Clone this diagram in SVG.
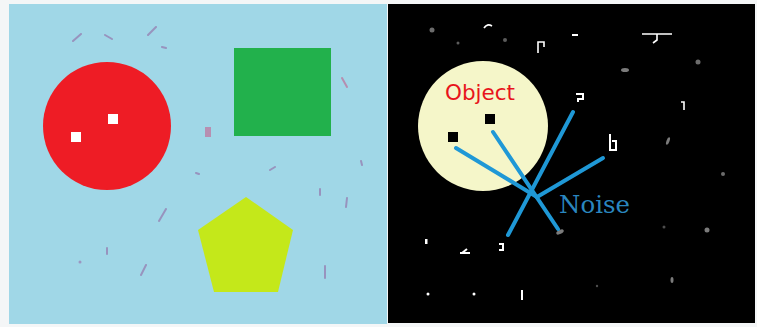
<svg xmlns="http://www.w3.org/2000/svg" width="757" height="327" viewBox="0 0 757 327">
<style>
.pn{fill:#9a7bb0;opacity:0.7}
.pd{stroke:#9577ad;stroke-width:2;stroke-linecap:round;opacity:0.7}
.wd{stroke:#ffffff;stroke-width:1.6;fill:none}
.gs{fill:#9a9a9a}
.ray{stroke:#1f98d6;stroke-width:4;stroke-linecap:round}
</style>
<rect width="757" height="327" fill="#f4f6f7"/>
<g id="panel-left">
<rect x="9" y="4" width="378" height="320" fill="#a0d7e7"/>
<g id="left-noise">
<line class="pd" x1="73" y1="41" x2="81" y2="34"/>
<line class="pd" x1="105" y1="35" x2="112" y2="39"/>
<line class="pd" x1="148" y1="35" x2="156" y2="27"/>
<line class="pd" x1="162" y1="47" x2="166" y2="48"/>
<line class="pd" x1="342" y1="78" x2="347" y2="87" style="stroke:#c0709a"/>
<rect x="205" y="127" width="6" height="10" fill="#c0709a" opacity="0.7"/>
<line class="pd" x1="159" y1="221" x2="166" y2="209"/>
<line class="pd" x1="107" y1="248" x2="107" y2="254"/>
<circle class="pn" cx="80" cy="262" r="1.5"/>
<line class="pd" x1="141" y1="275" x2="146" y2="265"/>
<line class="pd" x1="196" y1="173" x2="199" y2="174"/>
<line class="pd" x1="270" y1="170" x2="275" y2="167"/>
<line class="pd" x1="320" y1="189" x2="320" y2="195"/>
<line class="pd" x1="347" y1="198" x2="346" y2="207"/>
<line class="pd" x1="325" y1="266" x2="325" y2="278"/>
<line class="pd" x1="361" y1="161" x2="362" y2="165"/>
</g>
</g>
<g id="red-circle">
<circle cx="107" cy="126" r="64" fill="#ee1c25"/>
<rect x="71" y="132" width="10" height="10" fill="#ffffff"/>
<rect x="108" y="114" width="10" height="10" fill="#ffffff"/>
</g>
<g id="green-square">
<rect x="234" y="48" width="97" height="88" fill="#22b14c"/>
</g>
<g id="pentagon">
<polygon points="246,197 293,230 278,292 214,292 198,230" fill="#c4e81a"/>
</g>
<g id="panel-right">
<rect x="388" y="4" width="367" height="319" fill="#000000"/>
<g id="right-noise">
<circle class="gs" cx="432" cy="30" r="2.5" opacity="0.7"/>
<path class="wd" d="M484,28 Q487,23 492,26"/>
<circle class="gs" cx="458" cy="43" r="1.5" opacity="0.6"/>
<circle class="gs" cx="505" cy="40" r="2" opacity="0.6"/>
<path class="wd" d="M538,53 V42 H544 V47"/>
<line class="wd" x1="572" y1="35" x2="578" y2="35" style="stroke-width:2"/>
<path class="wd" d="M642,34 H672 M657,34 V40 L653,43"/>
<ellipse class="gs" cx="625" cy="70" rx="4" ry="2" opacity="0.8"/>
<circle class="gs" cx="698" cy="62" r="2.5" opacity="0.7"/>
<path class="wd" d="M576,94 H583 V99 H578 V102" style="stroke-width:2"/>
<path class="wd" d="M681,102 H684 V110"/>
<ellipse class="gs" cx="668" cy="141" rx="1.5" ry="4" transform="rotate(20 668 141)" opacity="0.8"/>
<path class="wd" d="M610,134 V150 H616 V141 H612" style="stroke-width:2"/>
<circle class="gs" cx="723" cy="174" r="2" opacity="0.7"/>
<circle class="gs" cx="707" cy="230" r="2.5" opacity="0.8"/>
<circle class="gs" cx="664" cy="227" r="1.5" opacity="0.5"/>
<ellipse class="gs" cx="672" cy="280" rx="1.5" ry="3" opacity="0.8"/>
<circle class="gs" cx="597" cy="286" r="1.2" opacity="0.5"/>
<ellipse class="gs" cx="560" cy="232" rx="4" ry="2" transform="rotate(-25 560 232)" opacity="0.8"/>
<rect x="425" y="239" width="2.5" height="5" fill="#ffffff"/>
<path class="wd" d="M460,253 H470 M462,253 L467,249" style="stroke-width:2"/>
<path class="wd" d="M499,244 H503 V250 H499" style="stroke-width:2"/>
<circle cx="428" cy="294" r="1.5" fill="#ffffff"/>
<circle cx="474" cy="294" r="1.5" fill="#ffffff"/>
<line class="wd" x1="522" y1="290" x2="522" y2="300" style="stroke-width:2"/>
</g>
</g>
<g id="object-circle">
<circle cx="483" cy="126" r="65" fill="#f5f6c9"/>
<rect x="448" y="132" width="10" height="10" fill="#000000"/>
<rect x="485" y="114" width="10" height="10" fill="#000000"/>
<text x="445" y="100" font-family="'DejaVu Sans', sans-serif" font-size="21" fill="#e8141c" textLength="70" lengthAdjust="spacingAndGlyphs">Object</text>
</g>
<g id="connectors">
<line class="ray" x1="456" y1="148" x2="537" y2="197"/>
<line class="ray" x1="493" y1="132" x2="558" y2="229"/>
<line class="ray" x1="573" y1="112" x2="508" y2="235"/>
<line class="ray" x1="603" y1="158" x2="537" y2="197"/>
</g>
<g id="noise-label">
<text x="559" y="213" font-family="'DejaVu Serif', serif" font-size="25" fill="#2a86bf" textLength="71" lengthAdjust="spacingAndGlyphs">Noise</text>
</g>
</svg>
